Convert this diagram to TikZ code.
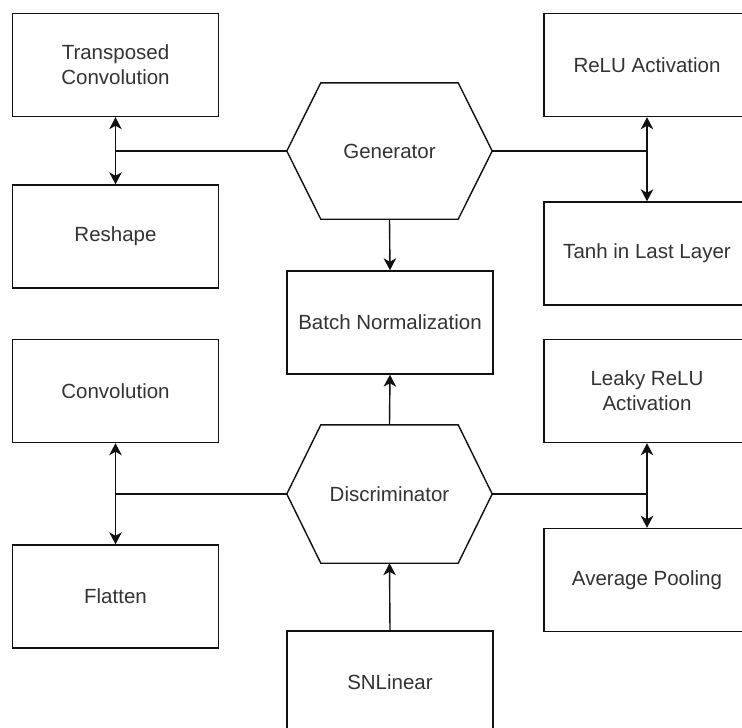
\documentclass[tikz,border=0pt]{standalone}
\usepackage{fontspec}
\setmainfont{Liberation Sans}
\usetikzlibrary{arrows.meta,calc}
\definecolor{ink}{HTML}{111111}
\definecolor{txt}{HTML}{333333}
\tikzset{
  blk/.style={draw=ink, line width=1.4pt, fill=white, minimum width=206pt, minimum height=103pt,
    inner sep=0pt, align=center, text=txt, font=\fontsize{20.5pt}{25pt}\selectfont},
  hexbox/.style={draw=none, minimum width=205pt, minimum height=136pt, inner sep=0pt,
    text=txt, font=\fontsize{20.5pt}{25pt}\selectfont},
  hexline/.style={draw=ink, line width=1.4pt, line join=miter},
  wire/.style={draw=ink, line width=1.4pt},
  arr/.style={wire, -{Stealth[length=12pt,width=12.5pt,inset=3.5pt]}},
}
\begin{document}
\begin{tikzpicture}[x=1pt,y=-1pt]
\useasboundingbox (0,0) rectangle (742,728);
\clip (0,0) rectangle (742,728);

% left column
\node[blk] (tc) at (115.5,65) {Transposed\\Convolution};
\node[blk] (rs) at (115.5,236.5) {Reshape};
\node[blk] (cv) at (115.5,391) {Convolution};
\node[blk] (fl) at (115.5,596.5) {Flatten};

% right column
\node[blk] (relu) at (647,65) {ReLU Activation};
\node[blk] (tanh) at (647,253.5) {Tanh in Last Layer};
\node[blk] (lrelu) at (647,391) {Leaky ReLU\\Activation};
\node[blk] (avg) at (647,580) {Average Pooling};

% centre column
\node[blk] (bn) at (390,322.5) {Batch Normalization};
\node[blk] (sn) at (390,682.5) {SNLinear};

\node[hexbox] (G) at (389.5,151) {Generator};
\node[hexbox, minimum height=138pt] (D) at (389.5,494) {Discriminator};

% hexagon outlines
\foreach \h in {G,D}{
  \draw[hexline] ($(\h.north west)+(34,0)$) -- ($(\h.north east)+(-34,0)$) -- (\h.east)
    -- ($(\h.south east)+(-34,0)$) -- ($(\h.south west)+(34,0)$) -- (\h.west) -- cycle;
}

% branch points
\coordinate (gl) at (tc.south |- G.west);
\coordinate (gr) at (relu.south |- G.east);
\coordinate (dl) at (cv.south |- D.west);
\coordinate (dr) at (lrelu.south |- D.east);

% generator links
\draw[wire] (G.west) -- (gl);
\draw[arr] (gl) -- (tc.south);
\draw[arr] (gl) -- (rs.north);
\draw[wire] (G.east) -- (gr);
\draw[arr] (gr) -- (relu.south);
\draw[arr] (gr) -- (tanh.north);
\draw[arr] (G.south) -- (bn.north);

% discriminator links
\draw[wire] (D.west) -- (dl);
\draw[arr] (dl) -- (cv.south);
\draw[arr] (dl) -- (fl.north);
\draw[wire] (D.east) -- (dr);
\draw[arr] (dr) -- (lrelu.south);
\draw[arr] (dr) -- (avg.north);
\draw[arr] (D.north) -- (bn.south);
\draw[arr] (sn.north) -- (D.south);
\end{tikzpicture}
\end{document}
